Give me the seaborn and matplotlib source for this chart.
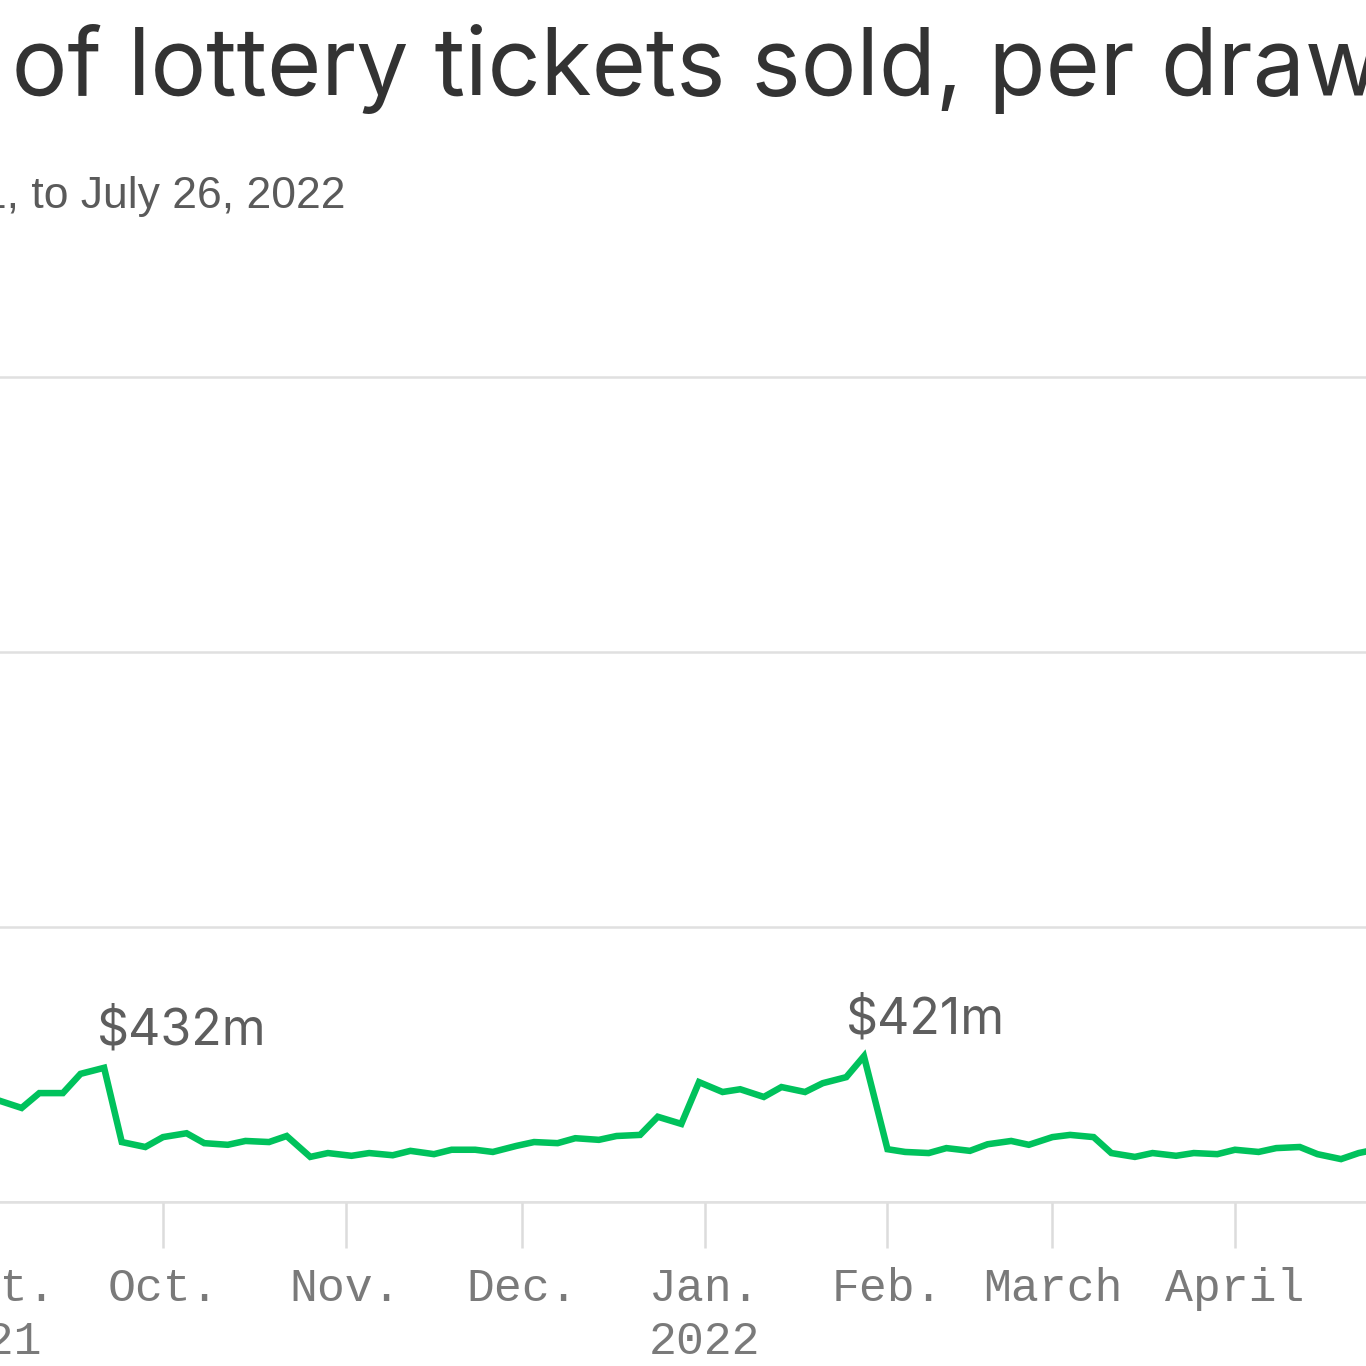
import matplotlib
matplotlib.use("Agg")
import matplotlib.pyplot as plt
import pandas as pd
import seaborn as sns

# ---------------- data ----------------
draw_dates = [
    "2021-09-03", "2021-09-07", "2021-09-10", "2021-09-14", "2021-09-17", "2021-09-21",
    "2021-09-24", "2021-09-28", "2021-10-01", "2021-10-05", "2021-10-08", "2021-10-12",
    "2021-10-15", "2021-10-19", "2021-10-22", "2021-10-26", "2021-10-29", "2021-11-02",
    "2021-11-05", "2021-11-09", "2021-11-12", "2021-11-16", "2021-11-19", "2021-11-23",
    "2021-11-26", "2021-11-30", "2021-12-03", "2021-12-07", "2021-12-10", "2021-12-14",
    "2021-12-17", "2021-12-21", "2021-12-24", "2021-12-28", "2021-12-31", "2022-01-04",
    "2022-01-07", "2022-01-11", "2022-01-14", "2022-01-18", "2022-01-21", "2022-01-25",
    "2022-01-28", "2022-02-01", "2022-02-04", "2022-02-08", "2022-02-11", "2022-02-15",
    "2022-02-18", "2022-02-22", "2022-02-25", "2022-03-01", "2022-03-04", "2022-03-08",
    "2022-03-11", "2022-03-15", "2022-03-18", "2022-03-22", "2022-03-25", "2022-03-29",
    "2022-04-01", "2022-04-05", "2022-04-08", "2022-04-12", "2022-04-15", "2022-04-19",
    "2022-04-22", "2022-04-26",
]
tickets_millions = [
    18.5, 17.1, 19.8, 19.8, 23.3, 24.4,
    10.9, 10.0, 11.8, 12.5, 10.7, 10.4,
    11.1, 10.9, 12.0, 8.2, 8.9, 8.4,
    8.9, 8.5, 9.3, 8.7, 9.5, 9.5,
    9.1, 10.2, 10.9, 10.7, 11.6, 11.3,
    12.0, 12.2, 15.5, 14.2, 21.8, 20.0,
    20.5, 19.1, 20.9, 20.0, 21.6, 22.7,
    26.5, 9.6, 9.1, 8.9, 9.8, 9.3,
    10.5, 11.1, 10.4, 11.8, 12.2, 11.8,
    8.9, 8.2, 8.9, 8.4, 8.9, 8.7,
    9.5, 9.1, 9.8, 10.0, 8.7, 7.8,
    8.9, 9.8,
]
month_ticks = ["2021-09-01", "2021-10-01", "2021-11-01", "2021-12-01", "2022-01-01",
               "2022-02-01", "2022-03-01", "2022-04-01", "2022-05-01"]
month_labels = ["Sept.\n2021", "Oct.", "Nov.", "Dec.", "Jan.\n2022",
                "Feb.", "March", "April", "May"]
grid_values = [0, 50, 100, 150]
jackpot_dates = ["2021-09-21", "2022-01-28"]
jackpot_labels = ["$432m", "$421m"]
title_text = "Number of lottery tickets sold, per drawing"
subtitle_text = "Jan. 1, 2021, to July 26, 2022"

df = pd.DataFrame({"date": pd.to_datetime(draw_dates), "tickets": tickets_millions})

# ---------------- style ----------------
sns.set_theme(style="white")
plt.rcParams["font.family"] = ["Liberation Sans", "DejaVu Sans"]

W = H = 1366
fig = plt.figure(figsize=(W / 100, H / 100), dpi=100)
fig.patch.set_facecolor("white")

# the visible picture is a crop of a wider chart: the axes run past both edges
base_px, top_px = 1202, 157
left_px, right_px = -60, W + 70
px_per_unit = 275 / 50.0
ymax = (base_px - top_px) / px_per_unit
ax = fig.add_axes([left_px / W, (H - base_px) / H,
                   (right_px - left_px) / W, (base_px - top_px) / H])

sns.lineplot(data=df, x="date", y="tickets", ax=ax, color="#00c25c",
             linewidth=4.7, solid_joinstyle="miter", solid_capstyle="butt")

ax.set_yticks(grid_values)
ax.set_yticklabels([])
ax.yaxis.grid(True, color="#e0e0e0", linewidth=1.8)
ax.xaxis.grid(False)
ax.tick_params(axis="y", length=0)

ax.set_xticks(pd.to_datetime(month_ticks))
ax.set_xticklabels(month_labels, family="Liberation Mono", fontsize=33.5,
                   color="#7a7a7a", linespacing=1.25)
ax.tick_params(axis="x", direction="out", length=33, width=1.8,
               color="#dcdcdc", pad=14, bottom=True)

oct1 = pd.Timestamp("2021-10-01")
px_per_day = (1235 - 163) / 182.0
ax.set_xlim(oct1 - pd.Timedelta(days=(163 - left_px) / px_per_day),
            oct1 + pd.Timedelta(days=(right_px - 163) / px_per_day))
ax.set_ylim(0, ymax)

for s in ["top", "left", "right"]:
    ax.spines[s].set_visible(False)
ax.spines["bottom"].set_color("#e0e0e0")
ax.spines["bottom"].set_linewidth(1.8)
ax.set_xlabel("")
ax.set_ylabel("")

# peak annotations
offsets = [(-7, 23), (-18, 23)]
for d, lab, (dx, dy) in zip(jackpot_dates, jackpot_labels, offsets):
    v = df.loc[df["date"] == pd.Timestamp(d), "tickets"].iloc[0]
    ax.annotate(lab, xy=(pd.Timestamp(d), v), xytext=(dx * 0.72, dy * 0.72),
                textcoords="offset points", ha="left", va="baseline",
                fontsize=36, color="#5e5e5e", family="Inter")

# title: position so that "of" starts at x = 12 px
renderer = fig.canvas.get_renderer()
tprops = dict(fontsize=67, color="#333333", family="Inter")
t1 = fig.text(0, 0, "Number of", **tprops)
t2 = fig.text(0, 0, "of", **tprops)
offset = t1.get_window_extent(renderer).width - t2.get_window_extent(renderer).width
t1.remove(); t2.remove()
fig.text((12 - offset) / W, 1 - 95 / H, title_text, ha="left", va="baseline", **tprops)

fig.text(345 / W, 1 - 208 / H, subtitle_text, ha="right", va="baseline",
         fontsize=32, color="#5a5a5a", family="Liberation Sans")

fig.savefig("out.png", dpi=100, facecolor="white")
